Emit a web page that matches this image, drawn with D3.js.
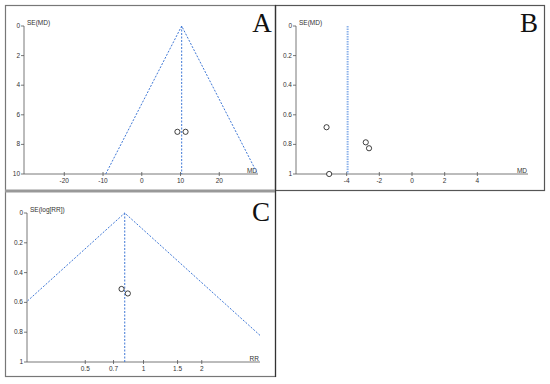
<!DOCTYPE html>
<html>
<head>
<meta charset="utf-8">
<script src="https://cdn.jsdelivr.net/npm/d3@7"></script>
<style>
  body { margin: 0; background: #fff; }
  svg { display: block; }
</style>
</head>
<body>
<div id="chart"></div>
<script>
// panel A: MD vs SE(MD)
const mdA = [9.2, 11.3]
const seA = [7.15, 7.15]
const centerA = 10.3
const xTicksA = [-20, -10, 0, 10, 20]
const yTicksA = [0, 2, 4, 6, 8, 10]

// panel B: MD vs SE(MD)
const mdB = [-5.23, -5.07, -2.83, -2.63]
const seB = [0.684, 1.0, 0.786, 0.826]
const centerB = -3.94
const xTicksB = [-4, -2, 0, 2, 4]
const yTicksB = [0, 0.2, 0.4, 0.6, 0.8, 1]

// panel C: RR vs SE(log[RR])
const rrC = [0.77, 0.83]
const seC = [0.51, 0.54]
const centerC = 0.8
const xTicksC = [0.5, 0.7, 1, 1.5, 2]
const yTicksC = [0, 0.2, 0.4, 0.6, 0.8, 1]

const svg = d3.select("#chart").append("svg")
    .attr("width", 550).attr("height", 384)

// frames
const frame = svg.append("g").attr("fill", "none")
frame.append("rect").attr("x", 5.5).attr("y", 5.5).attr("width", 270).attr("height", 371)
    .attr("stroke", "#777").attr("stroke-width", 1.2)
frame.append("rect").attr("x", 275.5).attr("y", 5.5).attr("width", 269).attr("height", 185)
    .attr("stroke", "#555").attr("stroke-width", 1.2)
frame.append("line").attr("x1", 5).attr("x2", 276).attr("y1", 191).attr("y2", 191)
    .attr("stroke", "#999").attr("stroke-width", 3)
frame.append("line").attr("x1", 275.5).attr("x2", 275.5).attr("y1", 5).attr("y2", 377)
    .attr("stroke", "#333").attr("stroke-width", 1.2)

function funnelPanel(opts) {
    const g = svg.append("g")
    const x = opts.x, y = opts.y
    const x0 = x.range()[0], x1 = x.range()[1]
    const y0 = y.range()[0], y1 = y.range()[1]

    const clipId = "clip" + opts.letter
    svg.append("clipPath").attr("id", clipId).append("rect")
        .attr("x", x0).attr("y", y0 - 1).attr("width", x1 - x0).attr("height", y1 - y0 + 1)

    // axes
    g.append("line").attr("x1", x0).attr("x2", x0).attr("y1", y0).attr("y2", y1)
        .attr("stroke", "#555").attr("stroke-width", 0.8)
    g.append("line").attr("x1", x0).attr("x2", x1).attr("y1", y1).attr("y2", y1)
        .attr("stroke", "#555").attr("stroke-width", 0.8)

    g.selectAll(".yt").data(opts.yTicks).enter().append("line")
        .attr("x1", x0 - 3).attr("x2", x0).attr("y1", d => y(d)).attr("y2", d => y(d))
        .attr("stroke", "#555").attr("stroke-width", 0.8)
    g.selectAll(".yl").data(opts.yTicks).enter().append("text")
        .attr("x", x0 - 4).attr("y", d => y(d) + 2)
        .attr("text-anchor", "end")
        .text(d => d)

    g.selectAll(".xt").data(opts.xTicks).enter().append("line")
        .attr("x1", d => x(d)).attr("x2", d => x(d)).attr("y1", y1 - 2).attr("y2", y1 + 2)
        .attr("stroke", "#555").attr("stroke-width", 0.8)
    g.selectAll(".xl").data(opts.xTicks).enter().append("text")
        .attr("x", d => x(d)).attr("y", y1 + 9)
        .attr("text-anchor", "middle")
        .text(d => d)

    g.append("text").attr("x", x0 + 3).attr("y", y0 - 1).text(opts.yLabel)
    g.append("text").attr("x", x1 - 1).attr("y", y1 - 1.5).attr("text-anchor", "end").text(opts.xLabel)

    g.selectAll("text").attr("font-family", "Liberation Sans, Arial, sans-serif")
        .attr("font-size", 6.5).attr("fill", "#333")

    // funnel
    const lines = g.append("g").attr("clip-path", "url(#" + clipId + ")")
    const c = opts.center
    const ymax = y.domain()[1]
    if (opts.funnel) {
        const lo = opts.log ? Math.exp(Math.log(c) - 1.96 * ymax) : c - 1.96 * ymax
        const hi = opts.log ? Math.exp(Math.log(c) + 1.96 * ymax) : c + 1.96 * ymax
        const path = d3.line().x(d => x(d[0])).y(d => y(d[1]))
        lines.append("path").attr("d", path([[lo, ymax], [c, 0], [hi, ymax]]))
            .attr("fill", "none").attr("stroke", "#3f78d6").attr("stroke-width", 1)
            .attr("stroke-dasharray", "2,1.5")
        lines.append("line").attr("x1", x(c)).attr("x2", x(c)).attr("y1", y0).attr("y2", y1)
            .attr("stroke", "#3f78d6").attr("stroke-width", 1).attr("stroke-dasharray", "2,1.5")
    } else {
        lines.append("line").attr("x1", x(c)).attr("x2", x(c)).attr("y1", y0).attr("y2", y1)
            .attr("stroke", "#8cb2ea").attr("stroke-width", 2).attr("stroke-dasharray", "1.5,1")
    }

    // studies
    g.selectAll("circle").data(opts.xs).enter().append("circle")
        .attr("cx", d => x(d)).attr("cy", (d, i) => y(opts.ys[i]))
        .attr("r", 2.6).attr("fill", "white").attr("stroke", "#111").attr("stroke-width", 0.8)

    g.append("text").attr("x", opts.letterX).attr("y", opts.letterY)
        .attr("text-anchor", "middle")
        .attr("font-family", "Liberation Serif, Times New Roman, serif")
        .attr("font-size", 27).attr("fill", "#111")
        .text(opts.letter)
}

funnelPanel({
    letter: "A", letterX: 262, letterY: 32,
    x: d3.scaleLinear().domain([-30.4, 30]).range([24, 258]),
    y: d3.scaleLinear().domain([0, 10]).range([26, 174]),
    xTicks: xTicksA, yTicks: yTicksA, xs: mdA, ys: seA, center: centerA,
    funnel: true, yLabel: "SE(MD)", xLabel: "MD"
})

funnelPanel({
    letter: "B", letterX: 529, letterY: 32,
    x: d3.scaleLinear().domain([-7.1, 7.1]).range([296, 528]),
    y: d3.scaleLinear().domain([0, 1]).range([26, 174]),
    xTicks: xTicksB, yTicks: yTicksB, xs: mdB, ys: seB, center: centerB,
    funnel: false, yLabel: "SE(MD)", xLabel: "MD"
})

funnelPanel({
    letter: "C", letterX: 261, letterY: 221,
    x: d3.scaleLog().domain([0.25, 4]).range([27, 260]),
    y: d3.scaleLinear().domain([0, 1]).range([213, 362]),
    xTicks: xTicksC, yTicks: yTicksC, xs: rrC, ys: seC, center: centerC,
    funnel: true, log: true, yLabel: "SE(log[RR])", xLabel: "RR"
})
</script>
</body>
</html>
